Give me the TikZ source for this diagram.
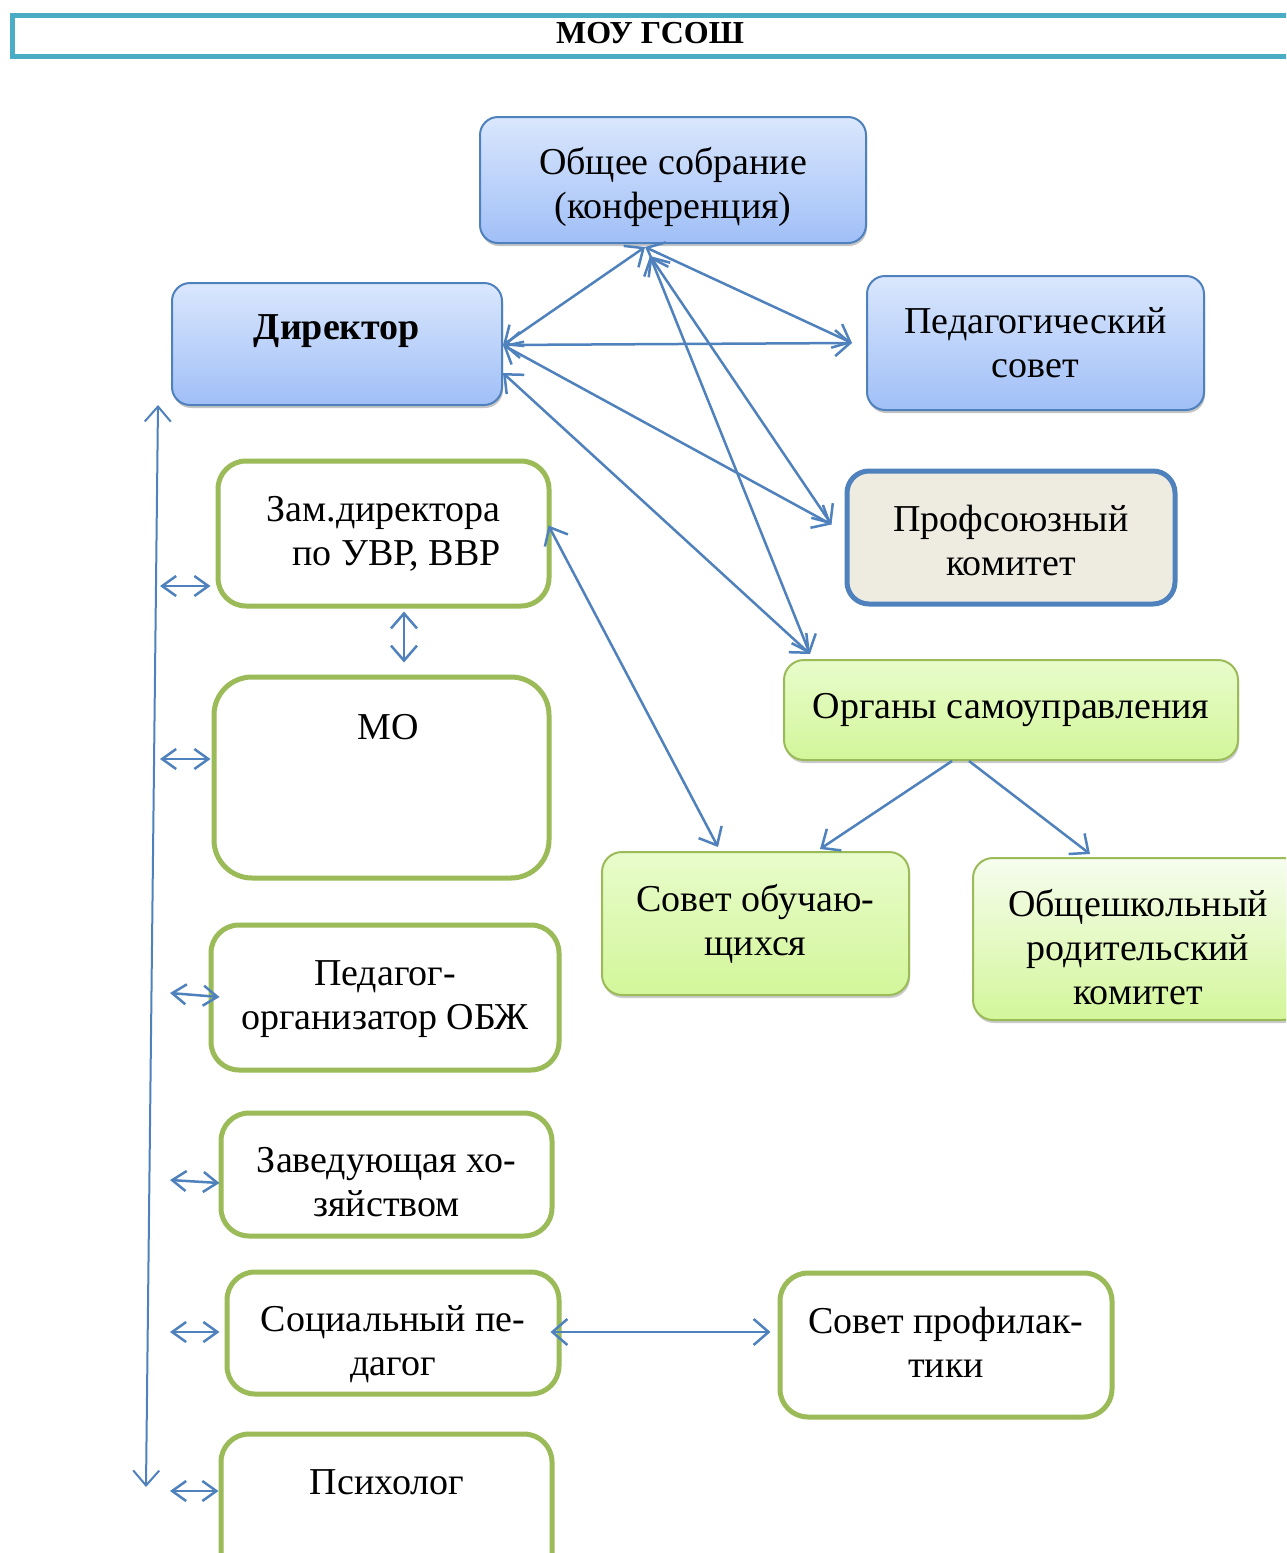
\documentclass[tikz,border=0pt]{standalone}
\usepackage{fontspec}
\setmainfont{Liberation Serif}
\usetikzlibrary{arrows.meta,shadows,calc}
\definecolor{bluebd}{HTML}{4F81BD}
\definecolor{greenbd}{HTML}{9BBB59}
\definecolor{titlebd}{HTML}{4BACC6}
\definecolor{blueT}{HTML}{DAE7FD}
\definecolor{blueB}{HTML}{A0BFF7}
\definecolor{greenT}{HTML}{E8FCCB}
\definecolor{greenB}{HTML}{D3F69A}
\definecolor{greenTT}{HTML}{F6FDEE}
\definecolor{profF}{HTML}{EEECE1}
\newcommand\txtfont{\fontsize{38}{44}\selectfont}
\tikzset{
  bluebox/.style={draw=bluebd, line width=2pt, rounded corners=18pt, top color=blueT, bottom color=blueB,
    drop shadow={shadow xshift=1pt, shadow yshift=-3pt, fill=black!45},
    inner sep=0pt, align=center, font=\txtfont},
  gfillbox/.style={draw=greenbd, line width=2pt, rounded corners=20pt, top color=greenT, bottom color=greenB,
    drop shadow={shadow xshift=1pt, shadow yshift=-3pt, fill=black!40},
    inner sep=0pt, align=center, font=\txtfont},
  gbox/.style={draw=greenbd, line width=5pt, rounded corners=28pt, fill=white,
    inner sep=0pt, align=center, font=\txtfont},
  profbox/.style={draw=bluebd, line width=5pt, rounded corners=22pt, fill=profF,
    inner sep=0pt, align=center, font=\txtfont},
  txt/.style={inner sep=0pt, align=center, font=\txtfont},
  arr/.style={draw=bluebd, line width=2.5pt, {Straight Barb[length=15pt,width=26pt]}-{Straight Barb[length=15pt,width=26pt]}},
  arrone/.style={draw=bluebd, line width=2.5pt, -{Straight Barb[length=15pt,width=26pt]}},
  arrs/.style={draw=bluebd, line width=2.5pt, {Straight Barb[length=14pt,width=20pt]}-{Straight Barb[length=14pt,width=20pt]}},
}
\begin{document}
\begin{tikzpicture}[x=1pt,y=-1pt]
\clip (0,0) rectangle (1286,1553);
\fill[white] (0,0) rectangle (1286,1553);
% title
\node[draw=titlebd, line width=5pt, minimum width=1300pt, minimum height=41pt, inner sep=0pt, anchor=north west] (title) at (9.5,12.5) {};
\node[inner sep=0pt, font=\bfseries\fontsize{32}{36}\selectfont] (titletext) at (650,33) {МОУ ГСОШ};
% blue boxes
\node[bluebox, minimum width=386pt, minimum height=126pt] (obsh) at (673,180) {};
\node[txt] (obshtext) at (673,187) {Общее собрание\\(конференция)};
\node[bluebox, minimum width=330pt, minimum height=122pt] (dir) at (337,344) {};
\node[txt, font=\txtfont\bfseries] (dirtext) at (337,331) {Директор};
\node[bluebox, minimum width=337pt, minimum height=134pt] (ped) at (1035.5,343) {Педагогический\\совет};
\node[profbox, minimum width=328pt, minimum height=133pt] (prof) at (1011,537.5) {};
\node[txt] (proftext) at (1011,540) {Профсоюзный\\комитет};
% green filled
\node[gfillbox, minimum width=454pt, minimum height=100pt] (org) at (1011,710) {Органы самоуправления};
\node[gfillbox, minimum width=307pt, minimum height=143pt] (sovob) at (755.5,923.5) {Совет обучаю-\\щихся};
\node[gfillbox, top color=greenTT, minimum width=330pt, minimum height=162pt] (rod) at (1138,939) {};
\node[txt] (rodtext) at (1138,947) {Общешкольный\\родительский\\комитет};
% green outlined
\node[gbox, minimum width=331pt, minimum height=145pt] (zam) at (383.5,533.5) {Зам.директора\\\hspace*{26pt}по УВР, ВВР};
\node[gbox, rounded corners=38pt, minimum width=335pt, minimum height=201pt] (mo) at (381.5,777.5) {};
\node[txt] (motext) at (388,727) {МО};
\node[gbox, minimum width=348pt, minimum height=145pt] (pedorg) at (385,997.5) {};
\node[txt] (pedorgtext) at (385,999) {Педагог-\\организатор ОБЖ};
\node[gbox, minimum width=331pt, minimum height=123pt] (zav) at (386.5,1174.5) {};
\node[txt] (zavtext) at (386.5,1182) {Заведующая хо-\\зяйством};
\node[gbox, minimum width=332pt, minimum height=122pt] (soc) at (393,1333) {};
\node[txt] (soctext) at (393,1344) {Социальный пе-\\дагог};
\node[gbox, minimum width=331pt, minimum height=160pt] (psy) at (386.5,1514) {};
\node[txt] (psytext) at (387,1482) {Психолог};
\node[gbox, minimum width=332pt, minimum height=144pt] (spr) at (946,1345) {};
\node[txt] (sprtext) at (946,1342) {Совет профилак-\\тики};
% connectors
\draw[arr] ([xshift=-28pt,yshift=-3pt]obsh.south) -- ([yshift=-1pt]dir.east);
\draw[arr] ([yshift=-1pt]dir.east) -- ([xshift=-14pt]ped.west);
\draw[arr] ([xshift=-28pt,yshift=-3pt]obsh.south) -- ([xshift=-14pt]ped.west);
\draw[arr] ([xshift=-23pt,yshift=-12pt]obsh.south) -- ([xshift=-13pt,yshift=13pt]prof.west);
\draw[arr] ([xshift=-23pt,yshift=-12pt]obsh.south) -- ([xshift=-201pt,yshift=5pt]org.north);
\draw[arr] ([yshift=-1pt]dir.east) -- ([xshift=-13pt,yshift=13pt]prof.west);
\draw[arr] ([yshift=-29pt]dir.east) -- ([xshift=-201pt,yshift=5pt]org.north);
\draw[arr] ([xshift=-3pt,yshift=8pt]zam.east) -- ([xshift=-37.5pt,yshift=4pt]sovob.north);
\draw[arrone] ([xshift=-59pt]org.south) -- ([xshift=64.5pt,yshift=2pt]sovob.north);
\draw[arrone] ([xshift=-42pt]org.south) -- ([xshift=-48pt,yshift=3pt]rod.north);
\draw[arr] ([xshift=20.5pt,yshift=-3pt]zam.south) -- ([xshift=22.5pt,yshift=12pt]mo.north);
\draw[arr] ([xshift=-11pt,yshift=1pt]soc.east) -- ([xshift=-7pt,yshift=13pt]spr.west);
% left vertical line and short arrows
\coordinate (vtop) at (158,405);
\coordinate (vbot) at (146,1487);
\draw[arr, line width=2pt] (vtop) -- (vbot);
\coordinate (h1) at (160,586);
\coordinate (h2) at (160,759);
\coordinate (h3) at (170,993);
\coordinate (h4) at (170,1180);
\coordinate (h5) at (170,1332);
\coordinate (h6) at (170,1491);
\draw[arrs] (h1) -- ([xshift=-5pt,yshift=-52.5pt]zam.west);
\draw[arrs] (h2) -- ([xshift=-1pt,yshift=18.5pt]mo.west);
\draw[arrs] (h3) -- ([xshift=11pt,yshift=0.5pt]pedorg.west);
\draw[arrs] (h4) -- ([xshift=1pt,yshift=-8.5pt]zav.west);
\draw[arrs] (h5) -- ([xshift=-5pt,yshift=1pt]soc.west);
\draw[arrs] (h6) -- ([yshift=23pt]psy.west);
\end{tikzpicture}
\end{document}
